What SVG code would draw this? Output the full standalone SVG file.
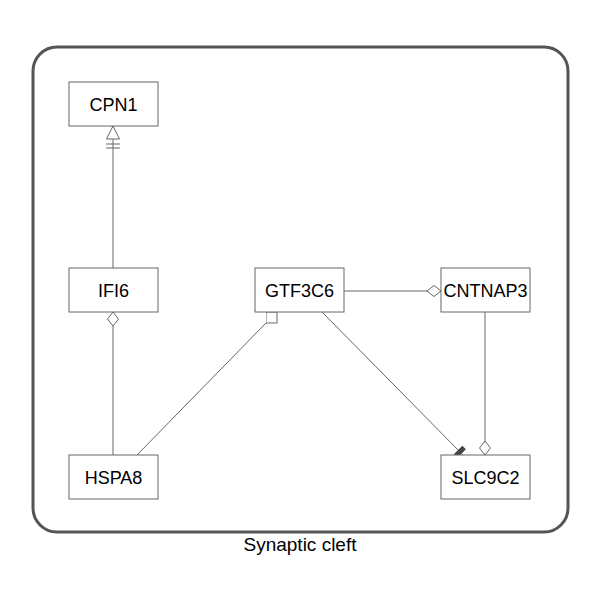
<svg xmlns="http://www.w3.org/2000/svg" width="600" height="600" viewBox="0 0 600 600">
  <style>
    .node rect { fill: #ffffff; stroke: #666666; stroke-width: 1; }
    .node text, .label { font-family: "Liberation Sans", Arial, sans-serif; font-size: 18px; fill: #000000; text-anchor: middle; }
    .label { font-size: 19px; }
    .edge { stroke: #666666; stroke-width: 1; fill: none; }
    .container { fill: #ffffff; stroke: #555555; stroke-width: 3; }
  </style>
  <defs>
    <marker id="diamond" markerUnits="userSpaceOnUse" viewBox="-1 -7 16 14" markerWidth="16" markerHeight="14" refX="14" refY="0" orient="auto">
      <path d="M0,0 L7,-5.5 L14,0 L7,5.5 Z" fill="#ffffff" stroke="#666666" stroke-width="1"/>
    </marker>
    <marker id="triBars" markerUnits="userSpaceOnUse" viewBox="0 -8 25 16" markerWidth="25" markerHeight="16" refX="24" refY="0" orient="auto">
      <path d="M24,0 L11,-6.5 L11,6.5 Z" fill="#ffffff" stroke="#666666" stroke-width="1"/>
      <path d="M6,-7 V7 M2,-7 V7" stroke="#666666" stroke-width="1" fill="none"/>
    </marker>
    <marker id="square" markerUnits="userSpaceOnUse" viewBox="0 0 12 12" markerWidth="12" markerHeight="12" refX="0.5" refY="11.5" orient="0">
      <rect x="0.5" y="0.5" width="11" height="11" fill="#ffffff" stroke="#666666" stroke-width="1"/>
    </marker>
    <marker id="tee" markerUnits="userSpaceOnUse" viewBox="0 -7 10 14" markerWidth="10" markerHeight="14" refX="9" refY="0" orient="auto">
      <rect x="2" y="-6" width="5" height="12" fill="#444444"/>
    </marker>
  </defs>

  <g id="container">
    <rect class="container" x="33" y="47" width="535" height="485" rx="24" ry="24"/>
    <text class="label" x="300" y="551">Synaptic cleft</text>
  </g>

  <g id="connectors">
    <line class="edge" x1="113" y1="268" x2="113" y2="126" marker-end="url(#triBars)"/>
    <line class="edge" x1="113" y1="455" x2="113" y2="312" marker-end="url(#diamond)"/>
    <line class="edge" x1="137" y1="455" x2="266" y2="323" marker-end="url(#square)"/>
    <line class="edge" x1="344" y1="291" x2="441" y2="291" marker-end="url(#diamond)"/>
    <line class="edge" x1="322" y1="312" x2="463" y2="455" marker-end="url(#tee)"/>
    <line class="edge" x1="485" y1="312" x2="485" y2="455" marker-end="url(#diamond)"/>
  </g>

  <g id="CPN1" class="node">
    <rect x="69" y="82" width="89" height="44"/>
    <text x="113.5" y="110.5">CPN1</text>
  </g>
  <g id="IFI6" class="node">
    <rect x="69" y="268" width="89" height="44"/>
    <text x="113.5" y="296.5">IFI6</text>
  </g>
  <g id="GTF3C6" class="node">
    <rect x="255" y="268" width="89" height="44"/>
    <text x="299.5" y="296.5">GTF3C6</text>
  </g>
  <g id="CNTNAP3" class="node">
    <rect x="441" y="268" width="89" height="44"/>
    <text x="485.5" y="296.5">CNTNAP3</text>
  </g>
  <g id="HSPA8" class="node">
    <rect x="69" y="455" width="89" height="44"/>
    <text x="113.5" y="483.5">HSPA8</text>
  </g>
  <g id="SLC9C2" class="node">
    <rect x="441" y="455" width="89" height="44"/>
    <text x="485.5" y="483.5">SLC9C2</text>
  </g>
</svg>
